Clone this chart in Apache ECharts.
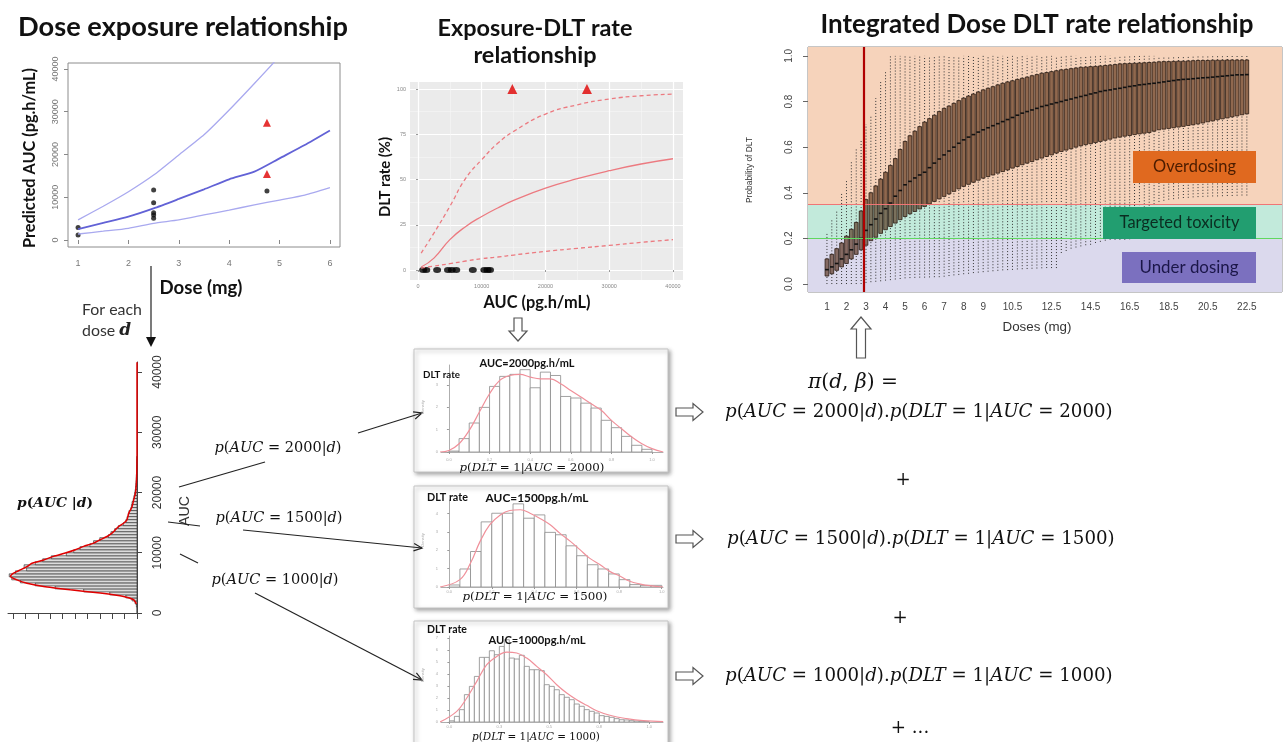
<!DOCTYPE html>
<html>
<head>
<meta charset="utf-8">
<script src="https://cdn.jsdelivr.net/npm/echarts@6.0.0/dist/echarts.min.js"></script>
<style>
  html, body { margin: 0; padding: 0; background: #fff; }
  #main { width: 1284px; height: 742px; }
</style>
</head>
<body>
<div id="main"></div>
<script>
// ---- dose / exposure panel ----
const doseTicks = [1, 2, 3, 4, 5, 6];
const aucTicks = [0, 10000, 20000, 30000, 40000];
const doseGrid = [1, 1.5, 2, 2.5, 3, 3.5, 4, 4.5, 5, 5.5, 6];
const aucMedian = [2570, 4000, 5460, 7400, 9600, 11850, 14200, 16000, 19100, 22200, 25600];
const aucUpper = [4700, 7900, 11300, 15200, 19900, 24600, 30400, 36600, 43000, 50000, 58000];
const aucLower = [1400, 2050, 2730, 3900, 4700, 5850, 7000, 8200, 9350, 10500, 12240];
const obsDose = [1, 1, 2.5, 2.5, 2.5, 2.5, 2.5, 4.75];
const obsAuc = [2900, 1170, 11700, 8700, 6400, 5850, 5070, 11460];
const dltDose = [4.75, 4.75];
const dltAuc = [27450, 15440];

// ---- exposure / DLT panel ----
const rateTicks = [0, 25, 50, 75, 100];
const rateMinor = [12.5, 37.5, 62.5, 87.5];
const aucMinor = [5000, 15000, 25000, 35000];
const aucCurve = [500, 2500, 5000, 7500, 10000, 12500, 15000, 20000, 25000, 30000, 35000, 40000];
const rateMedian = [1.7, 6.6, 16.8, 24.1, 29.6, 34.3, 38.5, 45.3, 50.5, 54.9, 58.6, 61.5];
const rateUpper = [9.4, 20.4, 35.2, 50.8, 61, 70, 76.6, 86.2, 91.3, 94.5, 96.3, 97.2];
const rateLower = [1.1, 2.2, 3.5, 5.0, 6.3, 7.2, 8.3, 10.3, 12.0, 13.6, 15.3, 16.8];
const noDltAuc = [800, 1300, 3000, 4700, 5300, 6000, 8600, 10400, 10900, 11300];
const dltObsAuc = [14800, 26500];

// ---- integrated dose / DLT panel ----
const doses = [
  1, 1.25, 1.5, 1.75, 2, 2.25, 2.5, 2.75,
  3, 3.25, 3.5, 3.75, 4, 4.25, 4.5, 4.75,
  5, 5.25, 5.5, 5.75, 6, 6.25, 6.5, 6.75,
  7, 7.25, 7.5, 7.75, 8, 8.25, 8.5, 8.75,
  9, 9.25, 9.5, 9.75, 10, 10.25, 10.5, 10.75,
  11, 11.25, 11.5, 11.75, 12, 12.25, 12.5, 12.75,
  13, 13.25, 13.5, 13.75, 14, 14.25, 14.5, 14.75,
  15, 15.25, 15.5, 15.75, 16, 16.25, 16.5, 16.75,
  17, 17.25, 17.5, 17.75, 18, 18.25, 18.5, 18.75,
  19, 19.25, 19.5, 19.75, 20, 20.25, 20.5, 20.75,
  21, 21.25, 21.5, 21.75, 22, 22.25, 22.5
];
const doseLabels = [1, 2, 3, 4, 5, 6, 7, 8, 9, 10.5, 12.5, 14.5, 16.5, 18.5, 20.5, 22.5];
const probTicks = [0, 0.2, 0.4, 0.6, 0.8, 1];
const probMin = [
  0, 0, 0, 0, 0, 0, 0, 0,
  .005, .008, .01, .012, .015, .017, .02, .022,
  .025, .026, .027, .028, .028, .029, .03, .03,
  .032, .035, .038, .04, .043, .045, .048, .05,
  .052, .054, .056, .058, .06, .061, .062, .064,
  .065, .066, .067, .068, .069, .07, .07, .07,
  .136, .145, .155, .16, .165, .17, .172, .18,
  .185, .19, .194, .194, .194, .194, .196, .25,
  .28, .31, .33, .35, .36, .365, .37, .372,
  .375, .377, .378, .38, .381, .382, .383, .384,
  .384, .385, .386, .386, .387, .388, .388
];
const probQ1 = [
  .035, .045, .06, .075, .09, .11, .13, .15,
  .17, .19, .205, .222, .238, .252, .267, .282,
  .296, .308, .318, .329, .34, .351, .362, .373,
  .384, .395, .406, .417, .428, .437, .446, .455,
  .464, .471, .478, .486, .493, .5, .508, .515,
  .523, .53, .537, .545, .552, .559, .566, .574,
  .581, .587, .593, .6, .606, .611, .615, .62,
  .625, .63, .635, .64, .644, .648, .651, .655,
  .658, .661, .664, .67, .676, .679, .682, .685,
  .688, .691, .695, .698, .702, .706, .711, .715,
  .72, .724, .728, .733, .737, .742, .746
];
const probMedian = [
  .063, .075, .09, .11, .13, .15, .175, .20,
  .235, .26, .285, .31, .33, .355, .385, .41,
  .435, .45, .465, .478, .49, .51, .53, .548,
  .566, .583, .60, .617, .632, .644, .655, .666,
  .676, .685, .694, .703, .712, .721, .73, .74,
  .749, .756, .763, .77, .778, .783, .789, .795,
  .80, .806, .811, .817, .822, .827, .833, .838,
  .844, .848, .851, .855, .858, .862, .866, .869,
  .873, .875, .878, .88, .883, .886, .889, .892,
  .895, .897, .898, .90, .902, .904, .905, .907,
  .909, .911, .913, .915, .917, .917, .918
];
const probQ3 = [
  .11, .13, .155, .18, .21, .24, .27, .32,
  .37, .40, .43, .46, .49, .52, .55, .59,
  .625, .65, .67, .69, .71, .725, .74, .756,
  .77, .78, .792, .804, .815, .824, .833, .842,
  .851, .858, .865, .873, .88, .886, .891, .897,
  .902, .907, .913, .918, .924, .927, .931, .935,
  .939, .941, .944, .947, .95, .951, .953, .954,
  .956, .958, .96, .962, .965, .966, .967, .968,
  .969, .97, .971, .972, .974, .975, .975, .976,
  .977, .977, .978, .979, .98, .98, .98, .981,
  .981, .981, .982, .982, .982, .982, .982
];
const probMax = [
  .223, .28, .325, .40, .457, .537, .596, .632,
  .70, .734, .815, .888, .93, 1, 1, 1,
  1, 1, 1, 1, 1, 1, 1, 1,
  1, 1, 1, 1, 1, 1, 1, 1,
  1, 1, 1, 1, 1, 1, 1, 1,
  1, 1, 1, 1, 1, 1, 1, 1,
  1, 1, 1, 1, 1, 1, 1, 1,
  1, 1, 1, 1, 1, 1, 1, 1,
  1, 1, 1, 1, 1, 1, 1, 1,
  1, 1, 1, 1, 1, 1, 1, 1,
  1, 1, 1, 1, 1, 1, 1
];
const targetLow = 0.2, targetHigh = 0.35, chosenDose = 2.9;

// ---- p(AUC|d) histogram (bins of 500) ----
const aucBin = 500;
const aucHist = [
  0, 0, 0.05, 0.15, 0.4, 0.9, 2.2, 4.3, 6.6, 8.2,
  9.4, 10.1, 10.3, 9.8, 8.9, 9.1, 8.2, 7.6, 6.9, 5.7,
  5.1, 4.6, 3.8, 3.5, 3.0, 2.3, 2.1, 1.8, 1.5, 1.1,
  0.9, 0.8, 0.7, 0.65, 0.5, 0.45, 0.4, 0.3, 0.25, 0.2,
  0.15, 0.12, 0.1, 0.08, 0.06, 0.05, 0.04, 0.03, 0.03, 0.02,
  0.02, 0.01
];
const densAuc = [1500, 2200, 2750, 3300, 3850, 4400, 4950, 5500, 6050, 6600, 7150, 7700, 8250, 8800, 9400, 9950,
  10500, 11050, 11600, 12150, 12700, 13250, 13800, 14350, 14900, 15450, 16550, 17650, 18750, 19850, 21500, 23200, 26000, 41600];
const densVal = [0.05, 0.27, 1.08, 2.96, 5.38, 7.53, 8.87, 9.68, 10.2, 9.95, 9.41, 8.87, 8.47, 7.53, 6.72, 5.78,
  4.97, 4.30, 3.49, 2.96, 2.42, 2.02, 1.75, 1.48, 1.08, 0.81, 0.67, 0.40, 0.27, 0.13, 0.05, 0.02, 0, 0];
const countTicks = [0, 1, 2, 3, 4, 5, 6, 7, 8, 9, 10];

// ---- p(DLT=1|AUC) histograms ----
const hist2000 = [0.04, 0.6, 1.3, 2.0, 2.94, 3.39, 3.48, 3.69, 2.88, 3.58, 3.43, 2.49, 2.42, 2.19, 1.97, 1.42, 1.09, 0.70, 0.30, 0.12];
const dens2000X = [-0.045, 0, 0.05, 0.1, 0.15, 0.2, 0.25, 0.3, 0.35, 0.4, 0.45, 0.5, 0.55, 0.6, 0.65, 0.7, 0.75, 0.8, 0.85, 0.9, 0.95, 1.0, 1.055];
const dens2000Y = [0, 0.07, 0.37, 0.97, 1.79, 2.61, 3.21, 3.43, 3.48, 3.36, 3.28, 3.28, 3.06, 2.76, 2.46, 2.16, 1.87, 1.42, 1.04, 0.67, 0.37, 0.15, 0];
const hist1500 = [0.11, 0.98, 1.93, 3.54, 4.01, 4.01, 4.52, 3.74, 3.92, 2.97, 2.84, 2.24, 1.70, 1.21, 0.98, 0.71, 0.40, 0.13, 0.09, 0.09];
const dens1500X = [-0.044, 0.05, 0.1, 0.145, 0.19, 0.24, 0.285, 0.335, 0.38, 0.425, 0.475, 0.52, 0.57, 0.615, 0.66, 0.71, 0.755, 0.805, 0.85, 0.9, 0.945, 1.006];
const dens1500Y = [0, 0.4, 1.3, 2.48, 3.38, 3.92, 4.16, 4.2, 4.01, 3.74, 3.38, 2.93, 2.48, 2.03, 1.57, 1.21, 0.85, 0.58, 0.31, 0.16, 0.07, 0];
const hist1000 = [0.1, 0.47, 1.03, 2.28, 2.97, 3.8, 5.39, 5.39, 5.94, 5.61, 6.3, 6.86, 5.33, 5.25, 5.56, 4.64, 4.36, 4.36, 4.28, 3.11,
  2.97, 2.69, 2.28, 2.06, 1.86, 1.5, 1.31, 1.03, 0.89, 0.75, 0.53, 0.47, 0.39, 0.28, 0.19, 0.17, 0.11, 0.08, 0.06, 0.03];
const dens1000X = [-0.047, 0.037, 0.087, 0.137, 0.187, 0.237, 0.287, 0.337, 0.387, 0.437, 0.487, 0.537, 0.587, 0.637, 0.687, 0.737, 0.803, 0.887, 0.97, 1.07];
const dens1000Y = [0, 0.89, 2.0, 3.39, 4.78, 5.47, 5.83, 5.75, 5.33, 4.64, 3.94, 3.11, 2.42, 1.86, 1.39, 0.94, 0.56, 0.28, 0.11, 0.03];

// ---------------------------------------------------------------
const chart = echarts.init(document.getElementById('main'));
const grids = [], xAxes = [], yAxes = [], series = [], graphics = [];

const ctx = document.createElement('canvas').getContext('2d');
function fit(text, font, width) {
  ctx.font = font.replace('{s}', '100');
  return 100 * width / ctx.measureText(text).width;
}
const mathRe = /([A-Za-zπβ]+)|([^A-Za-zπβ]+)/g;
function mathFit(str, width, bold) {
  let w = 0;
  str.replace(mathRe, function (m, a) {
    ctx.font = (a ? 'italic ' : '') + (bold ? 'bold ' : '') + '100px "DejaVu Serif"';
    w += ctx.measureText(m).width;
    return m;
  });
  return 100 * width / w;
}
function txt(x, y, text, font, o) {
  o = o || {};
  return {
    type: 'text', x: x, y: y, rotation: o.rot || 0, z: 100,
    style: {
      text: text, x: 0, y: 0, font: font, fill: o.color || '#111',
      align: o.align || 'center', verticalAlign: 'middle',
      textAlign: o.align || 'center', textVerticalAlign: 'middle'
    }
  };
}
function mathTxt(x, y, str, size, o) {
  o = o || {};
  const base = { fontFamily: 'DejaVu Serif', fontSize: size, fill: '#111', color: '#111', fontWeight: o.bold ? 'bold' : 'normal' };
  return {
    type: 'text', x: x, y: y, z: 100,
    style: {
      text: str.replace(mathRe, function (m, a) { return (a ? '{i|' : '{n|') + m + '}'; }),
      x: 0, y: 0, align: o.align || 'center', verticalAlign: 'middle',
      textAlign: o.align || 'center', textVerticalAlign: 'middle',
      rich: { i: Object.assign({ fontStyle: 'italic' }, base), n: Object.assign({}, base) }
    }
  };
}
function line(x1, y1, x2, y2) {
  return { type: 'line', z: 100, shape: { x1: x1, y1: y1, x2: x2, y2: y2 }, style: { stroke: '#222', lineWidth: 1.2 } };
}
function arrow(x1, y1, x2, y2) {
  const a = Math.atan2(y2 - y1, x2 - x1), h = 9, s = 0.42;
  return [line(x1, y1, x2, y2), {
    type: 'polyline', z: 100,
    shape: { points: [[x2 - h * Math.cos(a - s), y2 - h * Math.sin(a - s)], [x2, y2], [x2 - h * Math.cos(a + s), y2 - h * Math.sin(a + s)]] },
    style: { stroke: '#222', lineWidth: 1.2, fill: null }
  }];
}
function hollowArrow(fx, fy, tx, ty, sw, hw, hl) {
  const L = Math.hypot(tx - fx, ty - fy), ux = (tx - fx) / L, uy = (ty - fy) / L, nx = -uy, ny = ux;
  const bx = tx - ux * hl, by = ty - uy * hl;
  return {
    type: 'polygon', z: 100,
    shape: { points: [[fx + nx * sw, fy + ny * sw], [bx + nx * sw, by + ny * sw], [bx + nx * hw, by + ny * hw], [tx, ty],
      [bx - nx * hw, by - ny * hw], [bx - nx * sw, by - ny * sw], [fx - nx * sw, fy - ny * sw]] },
    style: { fill: '#fff', stroke: '#555', lineWidth: 1.2 }
  };
}

function addGrid(g) { grids.push(g); return grids.length - 1; }
function addX(opt) { xAxes.push(Object.assign({ type: 'value', gridIndex: grids.length - 1 }, opt)); return xAxes.length - 1; }
function addY(opt) { yAxes.push(Object.assign({ type: 'value', gridIndex: grids.length - 1 }, opt)); return yAxes.length - 1; }
const noAxis = { axisLine: { show: false }, axisTick: { show: false }, axisLabel: { show: false }, splitLine: { show: false } };
const pts = (xs, ys) => xs.map((x, i) => [x, ys[i]]);
const plain = v => String(v);

// ================= panel 1 : dose exposure =================
addGrid({ left: 68, top: 63, width: 272, height: 184, show: true, borderColor: '#8c8c8c', borderWidth: 1 });
const p1x = addX({
  min: 0.8, max: 6.2, axisLine: { show: false },
  axisTick: { length: 4, lineStyle: { color: '#888' }, customValues: doseTicks },
  axisLabel: { customValues: doseTicks, fontSize: 9, color: '#777', margin: 12, fontFamily: 'Liberation Sans', formatter: plain },
  splitLine: { show: false }
});
const p1y = addY({
  min: -1640, max: 41400, axisLine: { show: false },
  axisTick: { length: 4, lineStyle: { color: '#888' }, customValues: aucTicks },
  axisLabel: { customValues: aucTicks, fontSize: 9, color: '#777', margin: 8, rotate: 90, fontFamily: 'Liberation Sans', formatter: plain },
  splitLine: { show: false }
});
[[aucUpper, '#a9a9ef', 1.3], [aucLower, '#a9a9ef', 1.3], [aucMedian, '#6262d6', 1.8]].forEach(function (s) {
  series.push({ type: 'line', xAxisIndex: p1x, yAxisIndex: p1y, data: pts(doseGrid, s[0]), symbol: 'none', smooth: 0.2,
    lineStyle: { color: s[1], width: s[2] }, clip: true });
});
series.push({ type: 'scatter', xAxisIndex: p1x, yAxisIndex: p1y, data: pts(obsDose, obsAuc), symbolSize: 5, itemStyle: { color: '#111' } });
series.push({ type: 'scatter', xAxisIndex: p1x, yAxisIndex: p1y, data: pts(dltDose, dltAuc), symbol: 'triangle', symbolSize: 8, itemStyle: { color: '#e00000' } });

// ================= panel 2 : exposure DLT =================
addGrid({ left: 410, top: 82, width: 273, height: 198, show: true, backgroundColor: '#ebebeb', borderWidth: 0 });
const tinyLab = { fontSize: 5.5, color: '#888', fontFamily: 'Liberation Sans', formatter: plain };
const p2x = addX({
  min: -1255, max: 41570, axisLine: { show: false },
  axisTick: { length: 2, lineStyle: { color: '#999' }, customValues: aucTicks },
  axisLabel: Object.assign({ customValues: aucTicks, margin: 3 }, tinyLab),
  splitLine: { show: true, lineStyle: { color: '#fff', width: 1.2 } }
});
const p2y = addY({
  min: -5.5, max: 103.9, axisLine: { show: false },
  axisTick: { length: 2, lineStyle: { color: '#999' }, customValues: rateTicks },
  axisLabel: Object.assign({ customValues: rateTicks, margin: 4 }, tinyLab),
  splitLine: { show: true, lineStyle: { color: '#fff', width: 1.2 } }
});
addX(Object.assign({}, noAxis, { min: -1255, max: 41570, axisTick: { show: false, customValues: aucMinor },
  splitLine: { show: true, lineStyle: { color: '#f7f7f7', width: 0.6 } } }));
addY(Object.assign({}, noAxis, { min: -5.5, max: 103.9, axisTick: { show: false, customValues: rateMinor },
  splitLine: { show: true, lineStyle: { color: '#f7f7f7', width: 0.6 } } }));
[[rateUpper, 'dashed'], [rateLower, 'dashed'], [rateMedian, 'solid']].forEach(function (s) {
  series.push({ type: 'line', xAxisIndex: p2x, yAxisIndex: p2y, data: pts(aucCurve, s[0]), symbol: 'none', smooth: 0.5,
    lineStyle: { color: '#ec7a80', width: 1.3, type: s[1] === 'dashed' ? [4, 3] : 'solid' } });
});
series.push({ type: 'scatter', xAxisIndex: p2x, yAxisIndex: p2y, data: noDltAuc.map(a => [a, 0]), symbolSize: [8, 6], itemStyle: { color: '#000' } });
series.push({ type: 'scatter', xAxisIndex: p2x, yAxisIndex: p2y, data: dltObsAuc.map(a => [a, 100]), symbol: 'triangle', symbolSize: 10, itemStyle: { color: '#e00000' } });

// ================= panel 3 : integrated dose DLT =================
addGrid({ left: 808, top: 47, width: 474, height: 245, show: true, borderColor: '#8c8c8c', borderWidth: 1 });
const p3x = addX({
  min: 0.03, max: 24.3, axisLine: { show: false },
  axisTick: { length: 6, lineStyle: { color: '#666' }, customValues: doses },
  axisLabel: { customValues: doseLabels, fontSize: 10, color: '#444', margin: 10, fontFamily: 'Liberation Sans', formatter: plain },
  splitLine: { show: false }
});
const p3y = addY({
  min: -0.035, max: 1.039, axisLine: { show: false },
  axisTick: { length: 5, lineStyle: { color: '#666' }, customValues: probTicks },
  axisLabel: { customValues: probTicks, fontSize: 10, color: '#444', margin: 14, rotate: 90, fontFamily: 'Liberation Sans',
    formatter: v => v.toFixed(1) },
  splitLine: { show: false }
});
series.push({
  type: 'line', xAxisIndex: p3x, yAxisIndex: p3y, data: [], z: 1, silent: true,
  markArea: { silent: true, data: [
    [{ yAxis: targetHigh, itemStyle: { color: '#f6d3bb' } }, { yAxis: 1.039 }],
    [{ yAxis: targetLow, itemStyle: { color: '#c2eadb' } }, { yAxis: targetHigh }],
    [{ yAxis: -0.035, itemStyle: { color: '#dbd9ed' } }, { yAxis: targetLow }]
  ] },
  markLine: { silent: true, symbol: 'none', label: { show: false }, data: [
    { yAxis: targetHigh, lineStyle: { color: '#f07575', width: 1, type: 'solid' } },
    { yAxis: targetLow, lineStyle: { color: '#5fd85f', width: 1, type: 'solid' } }
  ] }
});
series.push({
  type: 'custom', xAxisIndex: p3x, yAxisIndex: p3y, z: 3, clip: true,
  data: doses.map((d, i) => [d, probMin[i], probQ1[i], probMedian[i], probQ3[i], probMax[i]]),
  encode: { x: 0, y: [1, 2, 3, 4, 5] },
  renderItem: function (params, api) {
    const x = api.value(0);
    const lo = api.coord([x, api.value(1)]), q1 = api.coord([x, api.value(2)]), md = api.coord([x, api.value(3)]),
      q3 = api.coord([x, api.value(4)]), hi = api.coord([x, api.value(5)]);
    const w = api.size([0.19, 0])[0];
    const dot = { stroke: '#333', lineWidth: 1, lineDash: [1, 2] };
    return { type: 'group', children: [
      { type: 'line', shape: { x1: lo[0], y1: lo[1], x2: q1[0], y2: q1[1] }, style: dot },
      { type: 'line', shape: { x1: q3[0], y1: q3[1], x2: hi[0], y2: hi[1] }, style: dot },
      { type: 'rect', shape: { x: q1[0] - w / 2, y: q3[1], width: w, height: q1[1] - q3[1] },
        style: { fill: 'rgba(70,25,0,0.58)', stroke: '#2a1a12', lineWidth: 0.8 } },
      { type: 'line', shape: { x1: md[0] - w / 2, y1: md[1], x2: md[0] + w / 2, y2: md[1] }, style: { stroke: '#111', lineWidth: 1.6 } }
    ] };
  }
});
series.push({
  type: 'line', xAxisIndex: p3x, yAxisIndex: p3y, data: [], z: 5, silent: true,
  markLine: { silent: true, symbol: 'none', label: { show: false }, data: [
    { xAxis: chosenDose, lineStyle: { color: '#b00000', width: 2.2, type: 'solid' } }
  ] }
});

// ================= panel 4 : p(AUC|d) =================
addGrid({ left: 8, top: 362, width: 129, height: 254 });
const p4x = addX({
  min: 0, max: 10.4, inverse: true, offset: 2,
  axisLine: { show: true, lineStyle: { color: '#444' } },
  axisTick: { length: 6, lineStyle: { color: '#444' }, customValues: countTicks },
  axisLabel: { show: false }, splitLine: { show: false }
});
const p4y = addY({
  min: -500, max: 41660, position: 'right', offset: 6,
  axisLine: { show: true, lineStyle: { color: '#444' } },
  axisTick: { length: 5, lineStyle: { color: '#444' }, customValues: aucTicks },
  axisLabel: { customValues: aucTicks, fontSize: 12, color: '#333', margin: 9, rotate: 90, fontFamily: 'Liberation Sans', formatter: plain },
  splitLine: { show: false }
});
series.push({
  type: 'custom', xAxisIndex: p4x, yAxisIndex: p4y, clip: true,
  data: aucHist.map((v, i) => [i * aucBin, (i + 1) * aucBin, v]),
  encode: { y: [0, 1], x: 2 },
  renderItem: function (params, api) {
    const a = api.coord([0, api.value(0)]), b = api.coord([api.value(2), api.value(1)]);
    return { type: 'rect', shape: { x: Math.min(a[0], b[0]), y: Math.min(a[1], b[1]), width: Math.abs(a[0] - b[0]), height: Math.abs(a[1] - b[1]) },
      style: { fill: '#dcdcdc', stroke: '#222', lineWidth: 0.6 } };
  }
});
series.push({ type: 'line', xAxisIndex: p4x, yAxisIndex: p4y, data: pts(densVal, densAuc), symbol: 'none', smooth: 0.2,
  lineStyle: { color: '#e00000', width: 1.5 } });

// ================= small histograms =================
function smallHist(box, hist, step, dx, dy, xTicks, yTicks) {
  addGrid({ left: box.left, top: box.top, width: box.width, height: box.height });
  const xi = addX({
    min: box.xmin, max: box.xmax, offset: box.offset,
    axisLine: { show: true, lineStyle: { color: '#999', width: 0.8 } },
    axisTick: { length: 2, lineStyle: { color: '#999' }, customValues: xTicks },
    axisLabel: { customValues: xTicks, fontSize: 4, color: '#aaa', margin: 2, formatter: v => v.toFixed(1) },
    splitLine: { show: false }
  });
  const yi = addY({
    min: 0, max: box.ymax,
    axisLine: { show: true, lineStyle: { color: '#999', width: 0.8 } },
    axisTick: { length: 2, lineStyle: { color: '#999' }, customValues: yTicks },
    axisLabel: { customValues: yTicks, fontSize: 4, color: '#aaa', margin: 3 },
    splitLine: { show: false }
  });
  series.push({
    type: 'custom', xAxisIndex: xi, yAxisIndex: yi, clip: true,
    data: hist.map((v, i) => [i * step, (i + 1) * step, v]),
    encode: { x: [0, 1], y: 2 },
    renderItem: function (params, api) {
      const a = api.coord([api.value(0), 0]), b = api.coord([api.value(1), api.value(2)]);
      return { type: 'rect', shape: { x: a[0], y: b[1], width: b[0] - a[0], height: a[1] - b[1] },
        style: { fill: '#fff', stroke: '#8a8a8a', lineWidth: 0.8 } };
    }
  });
  series.push({ type: 'line', xAxisIndex: xi, yAxisIndex: yi, data: pts(dx, dy), symbol: 'none', smooth: 0.4,
    lineStyle: { color: '#f0909a', width: 1.2 }, clip: true });
}
smallHist({ left: 441, top: 365, width: 222, height: 87, xmin: -0.039, xmax: 1.054, ymax: 3.9, offset: 4 },
  hist2000, 0.05, dens2000X, dens2000Y, [0, 0.2, 0.4, 0.6, 0.8, 1], [0, 1, 2, 3]);
smallHist({ left: 441, top: 500, width: 222, height: 87, xmin: -0.039, xmax: 1.006, ymax: 4.73, offset: 1 },
  hist1500, 0.05, dens1500X, dens1500Y, [0, 0.2, 0.4, 0.6, 0.8, 1], [0, 1, 2, 3, 4]);
smallHist({ left: 441, top: 636, width: 222, height: 86, xmin: -0.042, xmax: 1.069, ymax: 7.17, offset: 1 },
  hist1000, 0.025, dens1000X, dens1000Y, [0, 0.25, 0.5, 0.75, 1], [0, 1, 2, 3, 4, 5, 6, 7]);

// ================= annotations =================
[[414, 349, 254, 123], [414, 486, 254, 122], [414, 621, 254, 130]].forEach(function (b) {
  graphics.push({ type: 'rect', z: -10, shape: { x: b[0], y: b[1], width: b[2], height: b[3] },
    style: { fill: '#fff', stroke: '#c4c4c4', lineWidth: 1, shadowBlur: 4, shadowColor: 'rgba(0,0,0,0.35)', shadowOffsetX: 2, shadowOffsetY: 2 } });
});

const titleFont = s => 'bold ' + s + 'px Lato';
let s;
s = fit('Dose exposure relationship', 'bold {s}px Lato', 330);
graphics.push(txt(183, 27, 'Dose exposure relationship', titleFont(s)));
s = fit('Exposure-DLT rate', 'bold {s}px Lato', 195);
graphics.push(txt(535, 28, 'Exposure-DLT rate', titleFont(s)));
graphics.push(txt(535, 55, 'relationship', titleFont(s)));
s = fit('Integrated Dose DLT rate relationship', 'bold {s}px Lato', 433);
graphics.push(txt(1037, 25, 'Integrated Dose DLT rate relationship', titleFont(s)));

s = fit('Predicted AUC (pg.h/mL)', 'bold {s}px Lato', 180);
graphics.push(txt(30, 158, 'Predicted AUC (pg.h/mL)', titleFont(s), { rot: Math.PI / 2 }));
s = fit('Dose (mg)', 'bold {s}px Lato', 83);
graphics.push(txt(201, 288, 'Dose (mg)', titleFont(s)));
s = fit('DLT rate (%)', 'bold {s}px Lato', 80);
graphics.push(txt(385, 177, 'DLT rate (%)', titleFont(s), { rot: Math.PI / 2 }));
s = fit('AUC (pg.h/mL)', 'bold {s}px Lato', 107);
graphics.push(txt(537, 303, 'AUC (pg.h/mL)', titleFont(s)));

s = fit('Probability of DLT', '{s}px "Liberation Sans"', 66);
graphics.push(txt(750, 170, 'Probability of DLT', s + 'px "Liberation Sans"', { rot: Math.PI / 2, color: '#333' }));
s = fit('Doses (mg)', '{s}px "Liberation Sans"', 69);
graphics.push(txt(1037, 327, 'Doses (mg)', s + 'px "Liberation Sans"', { color: '#333' }));

[['Overdosing', 1133, 151, 123, 32, '#e0691f', '#4a1c00', 83],
 ['Targeted toxicity', 1103, 207, 153, 32, '#229e70', '#0b2d21', 120],
 ['Under dosing', 1122, 252, 134, 31, '#7b70bf', '#1b1648', 99]].forEach(function (b) {
  graphics.push({ type: 'rect', z: 90, shape: { x: b[1], y: b[2], width: b[3], height: b[4] }, style: { fill: b[5] } });
  const fs = fit(b[0], '{s}px Lato', b[7]);
  graphics.push(txt(b[1] + b[3] / 2, b[2] + b[4] / 2, b[0], fs + 'px Lato', { color: b[6] }));
});

// left side
graphics.push(line(151, 266, 151, 338));
graphics.push({ type: 'polygon', z: 100, shape: { points: [[146, 337], [156, 337], [151, 347]] }, style: { fill: '#111' } });
s = fit('For each', '{s}px Lato', 60);
graphics.push(txt(82, 310, 'For each', s + 'px Lato', { align: 'left', color: '#333' }));
graphics.push({
  type: 'text', x: 82, y: 331, z: 100,
  style: { text: '{a|dose }{b|d}', x: 0, y: 0, align: 'left', verticalAlign: 'middle', textAlign: 'left', textVerticalAlign: 'middle',
    rich: { a: { fontFamily: 'Lato', fontSize: s, fill: '#333', color: '#333' },
      b: { fontFamily: 'DejaVu Serif', fontStyle: 'italic', fontWeight: 'bold', fontSize: s + 1, fill: '#222', color: '#222' } } }
});
graphics.push(mathTxt(55, 503, 'p(AUC |d)', mathFit('p(AUC |d)', 76, true), { bold: true }));
s = fit('AUC', '{s}px "Liberation Sans"', 30);
graphics.push(txt(185, 511, 'AUC', s + 'px "Liberation Sans"', { rot: Math.PI / 2, color: '#333' }));

s = mathFit('p(AUC = 2000|d)', 127);
graphics.push(mathTxt(278, 448, 'p(AUC = 2000|d)', s));
graphics.push(mathTxt(279, 518, 'p(AUC = 1500|d)', s));
graphics.push(mathTxt(275, 580, 'p(AUC = 1000|d)', s));
graphics.push(line(179, 487, 265, 462));
graphics.push(line(168, 522, 200, 526));
graphics.push(line(180, 554, 198, 563));
graphics.push.apply(graphics, arrow(358, 433, 422, 413));
graphics.push.apply(graphics, arrow(243, 530, 422, 548));
graphics.push.apply(graphics, arrow(255, 593, 422, 680));

// small histogram texts
const labFont = sz => 'bold ' + sz + 'px Lato';
[[527, 363, 'AUC=2000pg.h/mL', 95, 423, 375, 37, 532, 468, 'p(DLT = 1|AUC = 2000)', 145],
 [537, 498, 'AUC=1500pg.h/mL', 103, 427, 498, 41, 535, 597, 'p(DLT = 1|AUC = 1500)', 145],
 [537, 640, 'AUC=1000pg.h/mL', 97, 427, 630, 40, 536, 737, 'p(DLT = 1|AUC = 1000)', 128]].forEach(function (t) {
  graphics.push(txt(t[0], t[1], t[2], labFont(fit(t[2], 'bold {s}px Lato', t[3]))));
  graphics.push(txt(t[4], t[5], 'DLT rate', labFont(fit('DLT rate', 'bold {s}px Lato', t[6])), { align: 'left' }));
  graphics.push(mathTxt(t[7], t[8], t[9], mathFit(t[9], t[10])));
});
[[423, 407], [423, 540], [423, 675]].forEach(function (p) {
  graphics.push(txt(p[0], p[1], 'Density', '4px "Liberation Sans"', { rot: Math.PI / 2, color: '#aaa' }));
});

// hollow arrows and right-hand formulas
graphics.push(hollowArrow(518, 318, 518, 341, 4, 9, 10));
graphics.push(hollowArrow(861, 358, 861, 317, 4.5, 10, 12));
graphics.push(hollowArrow(676, 412, 703, 412, 4, 8.5, 10));
graphics.push(hollowArrow(676, 539, 703, 539, 4, 8.5, 10));
graphics.push(hollowArrow(676, 676, 703, 676, 4, 8.5, 10));

graphics.push(mathTxt(808, 383, 'π(d, β) =', mathFit('π(d, β) =', 90), { align: 'left' }));
s = mathFit('p(AUC = 2000|d).p(DLT = 1|AUC = 2000)', 388);
graphics.push(mathTxt(725, 412, 'p(AUC = 2000|d).p(DLT = 1|AUC = 2000)', s, { align: 'left' }));
graphics.push(mathTxt(727, 539, 'p(AUC = 1500|d).p(DLT = 1|AUC = 1500)', s, { align: 'left' }));
graphics.push(mathTxt(725, 676, 'p(AUC = 1000|d).p(DLT = 1|AUC = 1000)', s, { align: 'left' }));
graphics.push(mathTxt(903, 480, '+', s));
graphics.push(mathTxt(900, 618, '+', s));
graphics.push(mathTxt(910, 728, '+ ...', s));

chart.setOption({
  animation: false,
  backgroundColor: '#fff',
  grid: grids,
  xAxis: xAxes,
  yAxis: yAxes,
  series: series,
  graphic: graphics
});
</script>
</body>
</html>
